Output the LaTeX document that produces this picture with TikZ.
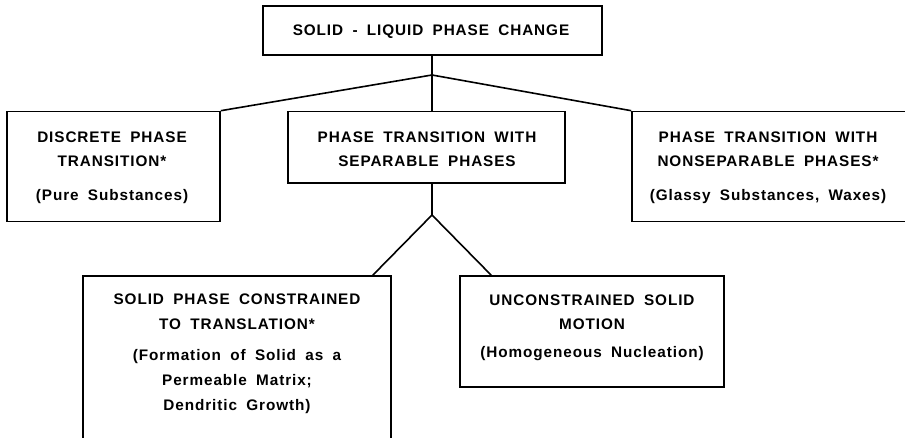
\documentclass[tikz,border=0pt]{standalone}
\usepackage{fontspec}
\newfontfamily\labfont{Liberation Sans}[UprightFont={* Bold}, LetterSpace=6, WordSpace=1.8]
\begin{document}
\begin{tikzpicture}[x=1pt,y=1pt,
  box/.style={draw, line width=1.6pt, inner sep=0pt, rectangle},
  conn/.style={draw, line width=1.6pt},
  lbl/.style={font=\labfont\fontsize{15.3pt}{18pt}\selectfont, inner sep=0pt, anchor=base}]
\useasboundingbox (0,0) rectangle (905,437);
\fill[white] (0,0) rectangle (905,437);
\clip (0,0) rectangle (905,437);
% boxes
\node[box, minimum width=339pt, minimum height=49pt] (top) at (432.5,406.5) {};
\node[box, minimum width=213pt, minimum height=110pt] (left) at (113.5,270.5) {};
\node[box, minimum width=277pt, minimum height=71.5pt] (mid) at (426.5,289.75) {};
\node[box, minimum width=278pt, minimum height=110pt] (right) at (771,270.5) {};
\node[box, minimum width=308pt, minimum height=184pt] (bl) at (237,69) {};
\node[box, minimum width=264pt, minimum height=111pt] (br) at (592,105.5) {};
% junctions
\coordinate (j1) at (432,362);
\coordinate (j2) at (432,222);
% connectors
\draw[conn] (j1 |- top.south) -- (j1);
\draw[conn] (j1) -- (left.north east);
\draw[conn] (j1) -- (right.north west);
\draw[conn] (j1) -- (j1 |- mid.north);
\draw[conn] (j2 |- mid.south) -- (j2);
\draw[conn] (j2) -- ([xshift=-19pt]bl.north east);
\draw[conn] (j2) -- ([xshift=32pt]br.north west);
% labels
\node[lbl] (t1) at (431,401.5) {SOLID - LIQUID PHASE CHANGE};
\node[lbl] (l1) at (112,294.5) {DISCRETE PHASE};
\node[lbl] (l2) at (112,270.5) {TRANSITION*};
\node[lbl] (l3) at (112,236.5) {(Pure Substances)};
\node[lbl] (m1) at (427,294.5) {PHASE TRANSITION WITH};
\node[lbl] (m2) at (427,270.5) {SEPARABLE PHASES};
\node[lbl] (r1) at (768,294.5) {PHASE TRANSITION WITH};
\node[lbl] (r2) at (768,270.5) {NONSEPARABLE PHASES*};
\node[lbl] (r3) at (768,236.5) {(Glassy Substances, Waxes)};
\node[lbl] (b1) at (237,132.5) {SOLID PHASE CONSTRAINED};
\node[lbl] (b2) at (237,107.5) {TO TRANSLATION*};
\node[lbl] (b3) at (237,76.5) {(Formation of Solid as a};
\node[lbl] (b4) at (237,51.5) {Permeable Matrix;};
\node[lbl] (b5) at (237,26.5) {Dendritic Growth)};
\node[lbl] (c1) at (592,131.5) {UNCONSTRAINED SOLID};
\node[lbl] (c2) at (592,107.5) {MOTION};
\node[lbl] (c3) at (592,79.5) {(Homogeneous Nucleation)};
\end{tikzpicture}
\end{document}
